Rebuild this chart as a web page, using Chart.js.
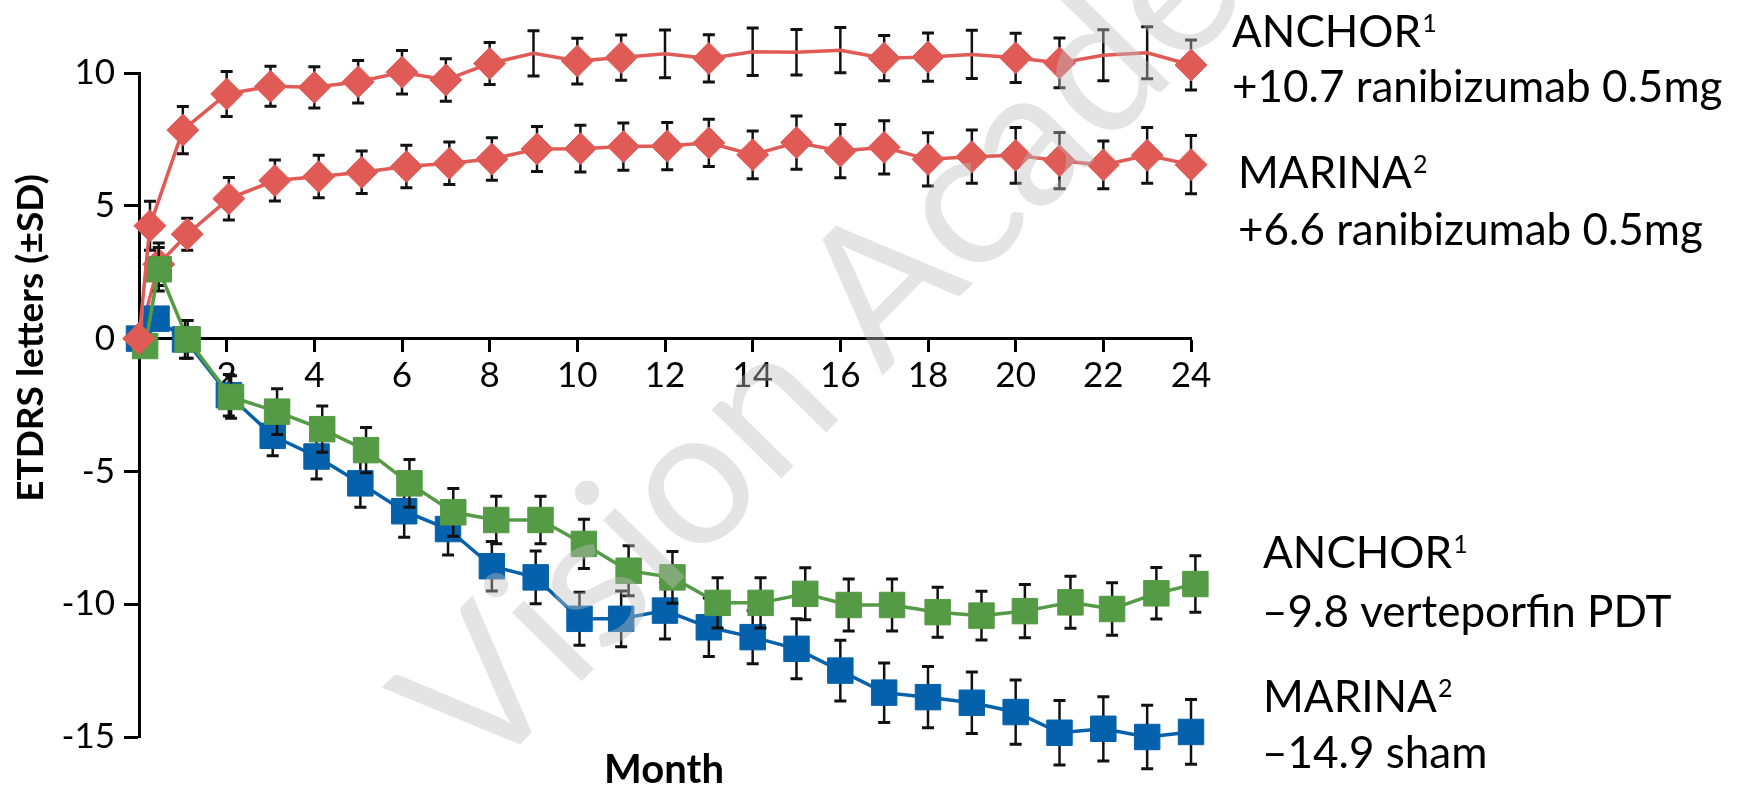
<!DOCTYPE html>
<html>
<head>
<meta charset="utf-8">
<script src="https://cdn.jsdelivr.net/npm/chart.js@4.4.1/dist/chart.umd.min.js"></script>
<style>
  html, body { margin: 0; padding: 0; background: #fff; }
</style>
</head>
<body>
<canvas id="chart" width="1742" height="788"></canvas>
<script>
// ANCHOR ranibizumab 0.5mg (upper red)
const anchorRaniMonths = [0, 0.25, 1, 2, 3, 4, 5, 6, 7, 8, 9, 10, 11, 12, 13, 14, 15, 16, 17, 18, 19, 20, 21, 22, 23, 24];
const anchorRaniMean = [0, 4.25, 7.85, 9.21, 9.5, 9.46, 9.67, 10.03, 9.74, 10.36, 10.74, 10.45, 10.58, 10.72, 10.55, 10.8, 10.78, 10.86, 10.56, 10.6, 10.7, 10.57, 10.38, 10.67, 10.76, 10.3];
const anchorRaniSD = [0, 0.92, 0.89, 0.85, 0.75, 0.78, 0.8, 0.82, 0.8, 0.79, 0.85, 0.86, 0.85, 0.9, 0.89, 0.89, 0.86, 0.85, 0.85, 0.91, 0.91, 0.93, 0.94, 0.96, 0.98, 0.94];

// MARINA ranibizumab 0.5mg (lower red)
const marinaRaniMonths = [0, 0.45, 1.1, 2.05, 3.1, 4.1, 5.08, 6.1, 7.08, 8.05, 9.08, 10.07, 11.05, 12.05, 13, 14, 15, 16, 17, 18, 19, 20, 21, 22, 23, 24];
const marinaRaniMean = [0, 2.8, 3.93, 5.27, 5.95, 6.1, 6.26, 6.48, 6.6, 6.76, 7.14, 7.15, 7.23, 7.25, 7.37, 6.92, 7.38, 7.06, 7.2, 6.75, 6.85, 6.9, 6.7, 6.54, 6.9, 6.55];
const marinaRaniSD = [0, 0.8, 0.6, 0.8, 0.77, 0.8, 0.8, 0.8, 0.8, 0.8, 0.85, 0.88, 0.89, 0.89, 0.89, 0.9, 1.0, 1.0, 1.0, 1.0, 1.0, 1.05, 1.06, 0.9, 1.05, 1.1];

// ANCHOR verteporfin PDT (green)
const anchorPdtMonths = [0.14, 0.45, 1.11, 2.1, 3.15, 4.18, 5.18, 6.17, 7.17, 8.15, 9.16, 10.15, 11.17, 12.17, 13.2, 14.18, 15.2, 16.19, 17.18, 18.22, 19.22, 20.21, 21.25, 22.2, 23.21, 24.1];
const anchorPdtMean = [-0.28, 2.61, -0.03, -2.2, -2.75, -3.41, -4.2, -5.45, -6.54, -6.83, -6.83, -7.73, -8.74, -8.99, -9.95, -9.95, -9.61, -10.03, -10.03, -10.3, -10.43, -10.26, -9.93, -10.18, -9.59, -9.24];
const anchorPdtSD = [0, 0.82, 0.71, 0.8, 0.86, 0.87, 0.85, 0.9, 0.9, 0.89, 0.89, 0.93, 0.94, 0.97, 0.95, 0.95, 0.98, 0.98, 0.98, 0.94, 0.92, 1.0, 0.98, 0.99, 0.97, 1.06];

// MARINA sham (blue)
const marinaShamMonths = [0, 0.4, 1.05, 2.05, 3.05, 4.05, 5.05, 6.05, 7.05, 8.05, 9.05, 10.05, 11, 12, 13, 14, 15, 16, 17, 18, 19, 20, 21, 22, 23, 24];
const marinaShamMean = [0, 0.75, -0.03, -2.13, -3.66, -4.44, -5.45, -6.5, -7.17, -8.57, -8.99, -10.55, -10.55, -10.24, -10.87, -11.24, -11.68, -12.5, -13.33, -13.5, -13.71, -14.06, -14.84, -14.69, -15.0, -14.81];
const marinaShamSD = [0, 0, 0.71, 0.78, 0.75, 0.85, 0.9, 0.98, 0.98, 0.93, 0.99, 1.0, 1.05, 1.07, 1.1, 1.0, 1.13, 1.14, 1.12, 1.15, 1.16, 1.21, 1.21, 1.21, 1.2, 1.22];

const yTicks = [10, 5, 0, -5, -10, -15];
const xTicks = [2, 4, 6, 8, 10, 12, 14, 16, 18, 20, 22, 24];

const RED = '#E05A56';
const GREEN = '#559A44';
const BLUE = '#0561AB';

function points(months, mean) {
  return months.map((m, i) => ({ x: m, y: mean[i] }));
}

function series(label, months, mean, sd, color, style) {
  return {
    label: label,
    data: points(months, mean),
    sd: sd,
    borderColor: color,
    backgroundColor: color,
    borderWidth: 3.5,
    pointStyle: style,
    pointRadius: style === 'rectRot' ? 16 : 18,
    pointBackgroundColor: color,
    pointBorderColor: color,
    pointBorderWidth: 1,
    tension: 0,
    clip: false
  };
}

// error bars drawn just before each dataset so its own markers sit on top
const errorBars = {
  id: 'errorBars',
  beforeDatasetDraw(chart, args) {
    const ds = chart.data.datasets[args.index];
    if (!ds.sd) return;
    const xs = chart.scales.x, ys = chart.scales.y, ctx = chart.ctx;
    ctx.save();
    ctx.strokeStyle = '#111';
    ctx.lineCap = 'butt';
    ds.data.forEach((p, i) => {
      const sd = ds.sd[i];
      if (!sd) return;
      const px = xs.getPixelForValue(p.x);
      const top = ys.getPixelForValue(p.y + sd);
      const bot = ys.getPixelForValue(p.y - sd);
      ctx.lineWidth = 2.5;
      ctx.beginPath();
      ctx.moveTo(px, top); ctx.lineTo(px, bot);
      ctx.stroke();
      ctx.lineWidth = 3;
      ctx.beginPath();
      ctx.moveTo(px - 6, top); ctx.lineTo(px + 6, top);
      ctx.moveTo(px - 6, bot); ctx.lineTo(px + 6, bot);
      ctx.stroke();
    });
    ctx.restore();
  }
};

function label(ctx, text, sup, x, y) {
  ctx.font = '44px Lato';
  ctx.fillText(text, x, y);
  if (sup) {
    const w = ctx.measureText(text).width;
    ctx.font = '25px Lato';
    ctx.fillText(sup, x + w + 1, y - 15);
  }
}

const annotations = {
  id: 'annotations',
  afterDraw(chart) {
    const ctx = chart.ctx;
    ctx.save();
    ctx.fillStyle = '#000';
    ctx.textAlign = 'left';
    ctx.textBaseline = 'alphabetic';
    label(ctx, 'ANCHOR', '1', 1232, 47);
    label(ctx, '+10.7 ranibizumab 0.5mg', '', 1232, 102);
    label(ctx, 'MARINA', '2', 1238, 188);
    label(ctx, '+6.6 ranibizumab 0.5mg', '', 1238, 245);
    label(ctx, 'ANCHOR', '1', 1263, 568);
    label(ctx, '\u20139.8 verteporfin PDT', '', 1262, 627);
    label(ctx, 'MARINA', '2', 1263, 712);
    label(ctx, '\u201314.9 sham', '', 1262, 768);

    // axis titles
    ctx.font = 'bold 40px Lato';
    ctx.textAlign = 'center';
    ctx.fillText('Month', 664, 783);
    ctx.save();
    ctx.translate(43, 338);
    ctx.rotate(-Math.PI / 2);
    ctx.font = 'bold 37px Lato';
    ctx.fillText('ETDRS letters (\u00b1SD)', 0, 0);
    ctx.restore();

    // watermark
    ctx.save();
    ctx.translate(480, 785);
    ctx.rotate(-45.5 * Math.PI / 180);
    ctx.font = '193px Lato';
    ctx.textAlign = 'left';
    ctx.fillStyle = 'rgba(190,190,190,0.42)';
    ctx.fillText('Vision Academy', 0, 0);
    ctx.restore();
    ctx.restore();
  }
};

Chart.defaults.font.family = 'Lato';
Chart.defaults.color = '#000';

new Chart(document.getElementById('chart'), {
  type: 'line',
  data: {
    datasets: [
      series('ANCHOR ranibizumab 0.5mg', anchorRaniMonths, anchorRaniMean, anchorRaniSD, RED, 'rectRot'),
      series('ANCHOR verteporfin PDT', anchorPdtMonths, anchorPdtMean, anchorPdtSD, GREEN, 'rect'),
      series('MARINA sham', marinaShamMonths, marinaShamMean, marinaShamSD, BLUE, 'rect'),
      series('MARINA ranibizumab 0.5mg', marinaRaniMonths, marinaRaniMean, marinaRaniSD, RED, 'rectRot')
    ]
  },
  options: {
    responsive: false,
    animation: false,
    devicePixelRatio: 1,
    events: [],
    layout: { padding: { left: 0, right: 551, top: 73, bottom: 51 } },
    plugins: { legend: { display: false }, tooltip: { enabled: false } },
    scales: {
      x: {
        type: 'linear',
        position: { y: 0 },
        min: 0,
        max: 24,
        afterBuildTicks: (s) => { s.ticks = [0].concat(xTicks).map(v => ({ value: v })); },
        ticks: {
          font: { size: 35 },
          color: '#000',
          padding: 4,
          maxRotation: 0,
          autoSkip: false,
          callback: (v) => (v === 0 ? '' : String(v))
        },
        grid: { drawOnChartArea: false, tickLength: 12, tickColor: '#000', tickWidth: 3 },
        border: { display: true, color: '#000', width: 3 }
      },
      y: {
        type: 'linear',
        position: 'left',
        min: -15,
        max: 10,
        afterBuildTicks: (s) => { s.ticks = yTicks.map(v => ({ value: v })); },
        afterFit: (s) => { s.width = 139; },
        ticks: { font: { size: 35 }, color: '#000', padding: 9 },
        grid: { drawOnChartArea: false, tickLength: 15, tickColor: '#000', tickWidth: 3 },
        border: { display: true, color: '#000', width: 3 }
      }
    }
  },
  plugins: [errorBars, annotations]
});
</script>
</body>
</html>
